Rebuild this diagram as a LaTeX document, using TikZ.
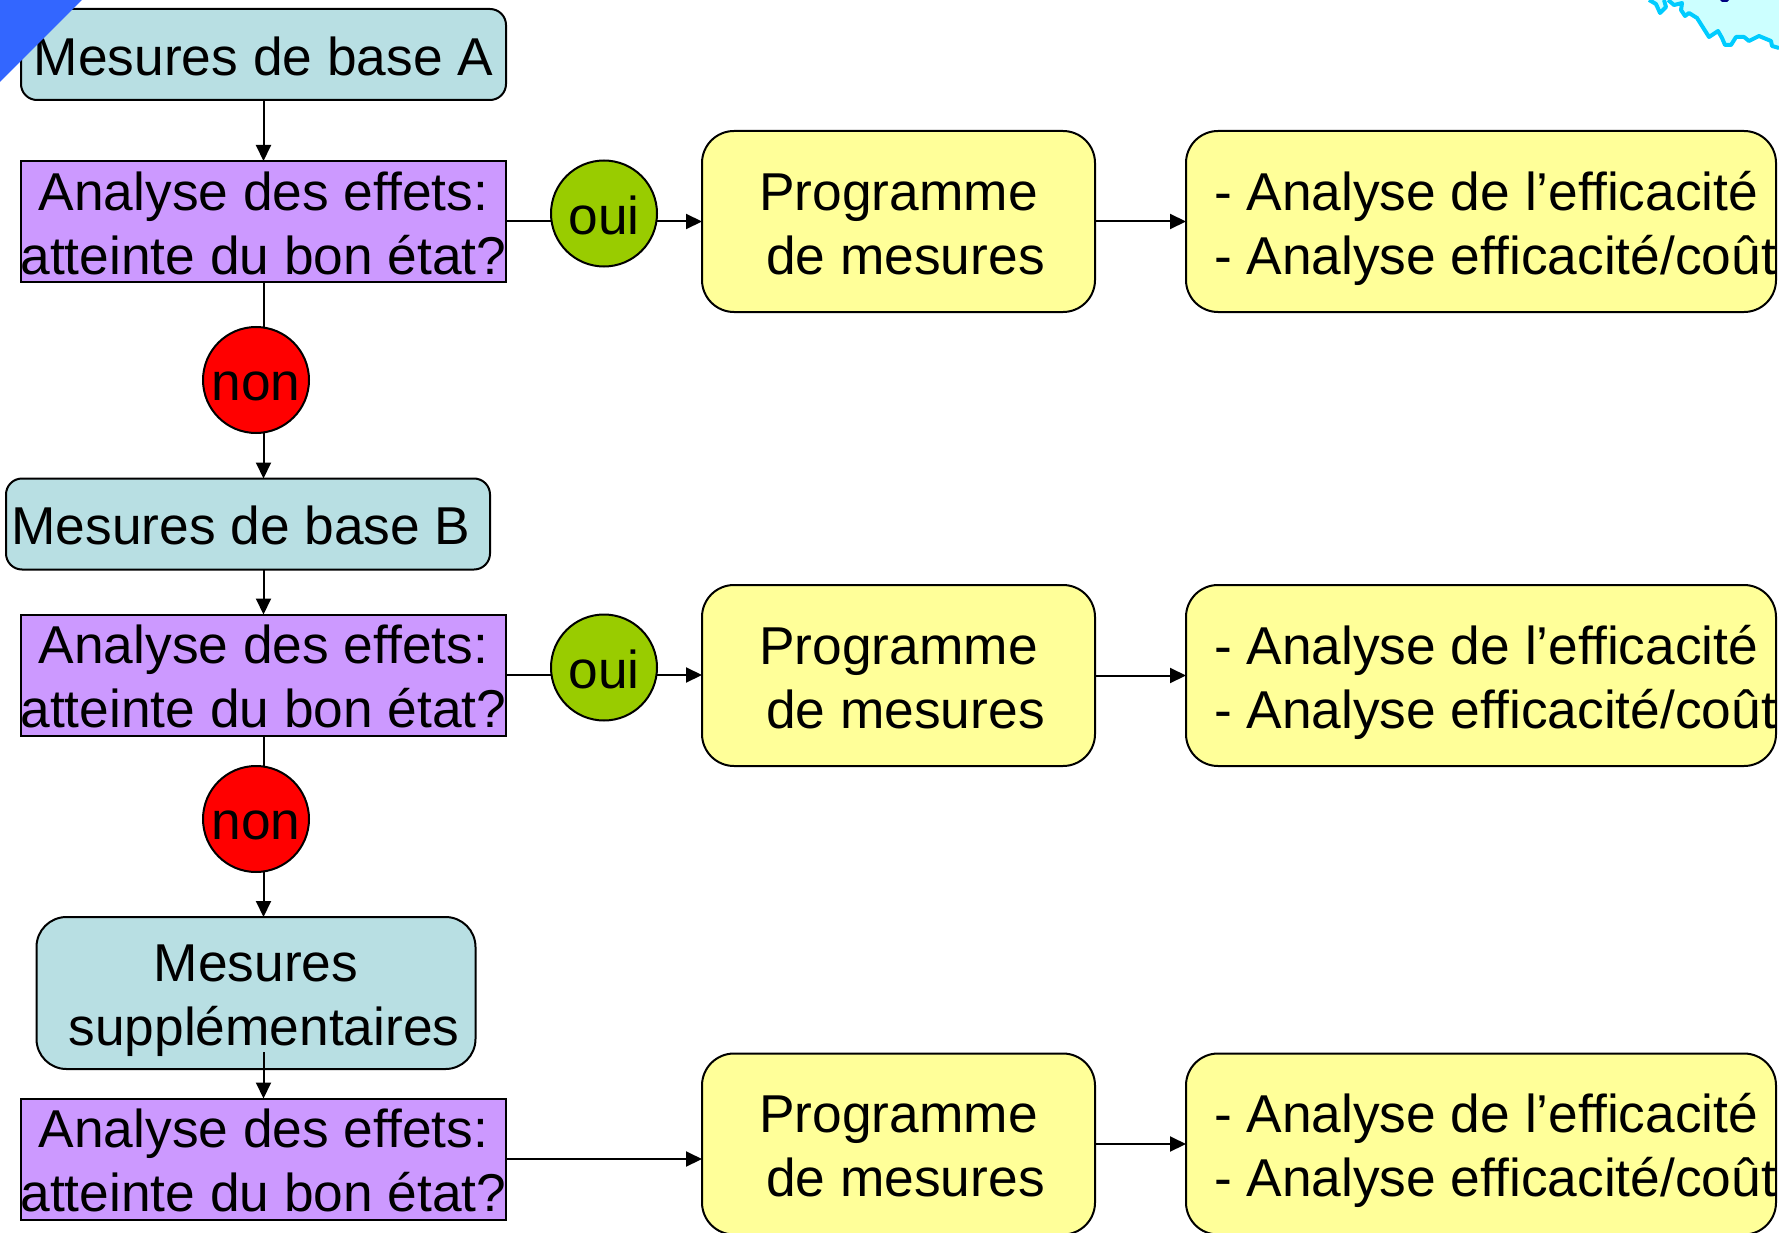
\documentclass[tikz,border=0pt]{standalone}
\usepackage{fontspec}
\setmainfont{Liberation Sans}
\usetikzlibrary{arrows.meta,shapes.geometric}
\definecolor{tealbox}{HTML}{B8DFE3}
\definecolor{purplebox}{HTML}{CC99FF}
\definecolor{yellowbox}{HTML}{FFFF99}
\definecolor{greencirc}{HTML}{99CC00}
\definecolor{redcirc}{HTML}{FF0000}
\definecolor{bluecorner}{HTML}{3366FF}
\definecolor{mapfill}{HTML}{CCFFFF}
\definecolor{mapline}{HTML}{00CCFF}
\definecolor{mapdark}{HTML}{000080}
\newcommand{\lowr}[1]{\rule{0pt}{#1pt}}
\newcommand{\rtxt}{\lowr{52.5}\makebox[0pt][l]{- Analyse de l’efficacité}\\\makebox[0pt][l]{- Analyse efficacité/coût}}
\newcommand{\ptxt}{\lowr{42}Programme\\\hspace*{14pt}de mesures}
\newcommand{\atxt}{\lowr{42}Analyse des effets:\\\makebox[470pt]{atteinte du bon état?}}
\tikzset{
  x=1pt,y=-1pt,
  every node/.style={font=\fontsize{53.3}{64}\selectfont,text=black,inner sep=0pt,outer sep=0pt,align=center},
  shapebox/.style={draw=black,line width=2pt},
  tealshape/.style={shapebox,rounded corners=16pt,fill=tealbox},
  purpleshape/.style={shapebox,fill=purplebox,minimum width=485pt,minimum height=121pt},
  progshape/.style={shapebox,rounded corners=32pt,fill=yellowbox,minimum width=393pt,minimum height=181pt},
  resshape/.style={progshape,minimum width=590pt,text width=534pt,align=flush left},
  ouicirc/.style={circle,draw=black,line width=2pt,fill=greencirc,minimum size=106pt},
  noncirc/.style={circle,draw=black,line width=2pt,fill=redcirc,minimum size=106pt},
  conn/.style={draw=black,line width=2pt},
  arr/.style={conn,-{Triangle[length=16pt,width=15pt]}},
}
\begin{document}
\begin{tikzpicture}
\useasboundingbox (0,0) rectangle (1779,1233);
% map fragment
\fill[mapfill] (1649,0) -- (1660,13) -- (1666,7) -- (1664,0) -- cycle;
\fill[mapfill] (1668,0) -- (1674,5) -- (1682,3) -- (1681,10) -- (1685,16) -- (1689,13) -- (1697,18) -- (1709,37) -- (1718,31) -- (1722,38) -- (1725,45) -- (1731,45) -- (1736,37) -- (1744,37) -- (1749,41) -- (1759,36) -- (1771,41) -- (1772,46) -- (1779,48) -- (1779,0) -- cycle;
\draw[mapline,line width=4pt,line join=round] (1649,0) -- (1656,4) -- (1660,13) -- (1666,7) -- (1664,0);
\draw[mapline,line width=4pt,line join=round] (1668,0) -- (1674,5) -- (1682,3) -- (1681,10) -- (1685,16) -- (1689,13) -- (1697,18) -- (1709,37) -- (1718,31) -- (1722,38) -- (1725,45) -- (1731,45) -- (1736,37) -- (1744,37) -- (1749,41) -- (1759,36) -- (1771,41) -- (1772,46) -- (1779,48);
\fill[mapdark] (1720,0) -- (1729,0) -- (1727,2) -- (1722,2) -- cycle;
% boxes
\node[tealshape,minimum width=485pt,minimum height=91pt] (ma) at (263.5,54.5) {\lowr{42}Mesures de base A};
\node[purpleshape] (a1) at (263.5,221.5) {\atxt};
\node[progshape] (p1) at (898.5,221.5) {\ptxt};
\node[resshape] (r1) at (1481,221.5) {\rtxt};
\node[tealshape,minimum width=484pt,minimum height=91pt] (mb) at (248,524) {\lowr{42}Mesures de base B\hspace*{14pt}};
\node[purpleshape] (a2) at (263.5,675) {\atxt};
\node[progshape] (p2) at (898.5,675.5) {\ptxt};
\node[resshape] (r2) at (1481,675.5) {\rtxt};
\node[tealshape,rounded corners=30pt,minimum width=439pt,minimum height=152pt] (ms) at (256,993) {\lowr{53}Mesures\\\hspace*{16pt}supplémentaires};
\node[purpleshape] (a3) at (263.5,1159) {\atxt};
\node[progshape] (p3) at (898.5,1144) {\ptxt};
\node[resshape] (r3) at (1481,1144) {\rtxt};
\coordinate (s3) at (263.5,1052);
% connectors
\draw[arr] (ma.south) -- (a1.north);
\draw[arr] (a1.east) -- (a1.east -| p1.west);
\draw[arr] (p1.east) -- (r1.west);
\draw[arr] (a1.south) -- (a1.south |- mb.north);
\draw[arr] (a1.south |- mb.south) -- (a2.north);
\draw[arr] (a2.east) -- (a2.east -| p2.west);
\draw[arr] (p2.east) -- (r2.west);
\draw[arr] (a2.south) -- (a2.south |- ms.north);
\draw[arr] (s3) -- (a3.north);
\draw[arr] (a3.east) -- (a3.east -| p3.west);
\draw[arr] (p3.east) -- (r3.west);
% circles
\node[ouicirc] (o1) at (604,213.5) {\lowr{43}oui};
\node[noncirc] (n1) at (256,380) {\lowr{41.5}non};
\node[ouicirc] (o2) at (604,667.5) {\lowr{43}oui};
\node[noncirc] (n2) at (256,819) {\lowr{41.5}non};
% corner
\fill[bluecorner] (0,0) -- (82,0) -- (0,82) -- cycle;
\end{tikzpicture}
\end{document}
